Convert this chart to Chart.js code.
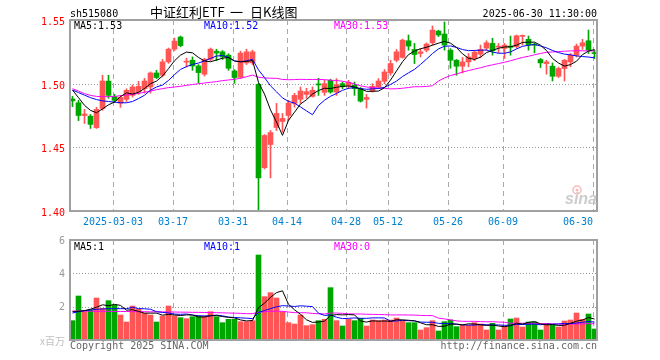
<!DOCTYPE html>
<html><head><meta charset="utf-8">
<script src="https://cdn.jsdelivr.net/npm/chart.js@4.4.1/dist/chart.umd.min.js"></script>
<style>
html,body{margin:0;padding:0;background:#fff;}
#wrap{position:relative;width:660px;height:360px;overflow:hidden;}
canvas{position:absolute;left:0;}
</style>
</head><body>
<div id="wrap">
<canvas id="k" width="660" height="230" style="top:0"></canvas>
<canvas id="v" width="660" height="130" style="top:230px"></canvas>
</div>
<script>
const dates = ['02-20','02-21','02-24','02-25','02-26','02-27','02-28',
'03-03','03-04','03-05','03-06','03-07','03-10','03-11','03-12','03-13','03-14',
'03-17','03-18','03-19','03-20','03-21','03-24','03-25','03-26','03-27','03-28',
'03-31','04-01','04-02','04-03','04-07','04-08','04-09','04-10','04-11',
'04-14','04-15','04-16','04-17','04-18','04-21','04-22','04-23','04-24','04-25',
'04-28','04-29','04-30','05-06','05-07','05-08','05-09',
'05-12','05-13','05-14','05-15','05-16','05-19','05-20','05-21','05-22','05-23',
'05-26','05-27','05-28','05-29','05-30','06-03','06-04','06-05','06-06',
'06-09','06-10','06-11','06-12','06-13','06-16','06-17','06-18','06-19','06-20',
'06-23','06-24','06-25','06-26','06-27','06-30'];

const tickDates  = ['03-03','03-17','03-31','04-14','04-28','05-12','05-26','06-09','06-30'];
const tickLabels = ['2025-03-03','03-17','03-31','04-14','04-28','05-12','05-26','06-09','06-30'];
const priceTicks = [1.55,1.50,1.45,1.40];
const priceGrid  = [1.50,1.45];
const volTicks   = [6,4,2];
const volGrid    = [4,2];
const titleParts = ['中证红利ETF', '一', '日K线图'];

const open = [1.488,1.485,1.475,1.4745,1.4655,1.4805,1.502,1.490,1.4847,1.4877,
1.4908,1.4934,1.4961,1.4974,1.5084,1.5066,1.5171,1.5271,1.5366,1.5169,
1.5184,1.5139,1.5074,1.5192,1.5255,1.525,1.5224,1.510,1.505,1.5163,
1.5163,1.4995,1.434,1.4522,1.4656,1.4703,1.475,1.4845,1.4877,1.4916,
1.490,1.4995,1.4932,1.5026,1.4934,1.500,1.4985,1.4987,1.4961,1.4877,
1.4942,1.4974,1.5019,1.5084,1.5184,1.5206,1.5337,1.5269,1.5237,1.5263,
1.5321,1.5413,1.539,1.5263,1.5184,1.5137,1.5171,1.5198,1.5232,1.5279,
1.5316,1.5287,1.5277,1.5295,1.529,1.5372,1.5348,1.5311,1.519,1.5158,
1.5137,1.5058,1.5119,1.5171,1.5224,1.5295,1.5337,1.524];
const high = [1.490,1.4869,1.4798,1.4758,1.4814,1.5066,1.5066,1.4916,1.4908,1.496,
1.499,1.5019,1.5042,1.5092,1.5105,1.519,1.528,1.5358,1.5374,1.520,
1.521,1.515,1.520,1.528,1.527,1.526,1.5235,1.511,1.5255,1.5271,
1.5263,1.5003,1.460,1.4632,1.4845,1.4766,1.4869,1.4924,1.4974,1.4963,
1.4974,1.5042,1.5026,1.5035,1.504,1.5013,1.5026,1.5013,1.497,1.4916,
1.500,1.504,1.5111,1.5184,1.5269,1.535,1.5382,1.5316,1.5277,1.532,
1.5453,1.542,1.5484,1.5275,1.519,1.5206,1.5237,1.526,1.5303,1.5337,
1.5356,1.5316,1.5316,1.5374,1.5382,1.5382,1.5374,1.532,1.5198,1.5184,
1.5163,1.513,1.519,1.5237,1.5311,1.5348,1.5421,1.5263];
const low = [1.482,1.471,1.4687,1.4648,1.4648,1.479,1.4885,1.4853,1.4814,1.486,
1.4895,1.4916,1.4926,1.4926,1.504,1.5053,1.516,1.526,1.529,1.513,
1.5105,1.5005,1.506,1.518,1.518,1.519,1.5105,1.5003,1.504,1.515,
1.515,1.4009,1.433,1.426,1.4632,1.4619,1.471,1.4816,1.4845,1.4885,
1.4895,1.4908,1.4908,1.4925,1.4908,1.4961,1.4961,1.4908,1.4855,1.4808,
1.4934,1.4961,1.500,1.5066,1.5171,1.520,1.5263,1.5158,1.521,1.525,
1.5303,1.537,1.5263,1.5121,1.5066,1.5084,1.5132,1.518,1.5206,1.5263,
1.5224,1.5242,1.5198,1.5224,1.528,1.5303,1.5263,1.5242,1.5127,1.5074,
1.5021,1.5048,1.5021,1.5132,1.521,1.5269,1.5237,1.5198];
const close = [1.4865,1.475,1.4762,1.468,1.4798,1.5021,1.4908,1.4869,1.4892,1.4948,
1.4974,1.4979,1.5021,1.5084,1.5048,1.5171,1.5271,1.5334,1.5299,1.5173,
1.5139,1.5087,1.5192,1.5271,1.524,1.521,1.5121,1.5048,1.524,1.525,
1.525,1.426,1.4593,1.4616,1.4766,1.4727,1.4845,1.4908,1.4942,1.4937,
1.4948,1.499,1.500,1.4934,1.4993,1.4979,1.5011,1.4961,1.4863,1.4892,
1.4979,1.5021,1.5092,1.5158,1.525,1.5342,1.5295,1.5229,1.525,1.5311,
1.5421,1.5382,1.5303,1.5184,1.5137,1.5171,1.521,1.5248,1.5269,1.5321,
1.5258,1.529,1.5303,1.5285,1.5376,1.5375,1.5303,1.5303,1.5163,1.5171,
1.5058,1.5119,1.5184,1.5224,1.5295,1.5321,1.5263,1.5236];

const ma5 = [1.495,1.489,1.483,1.479,1.4772,1.4802,1.4834,1.4856,1.4898,1.4928,
1.4918,1.4932,1.4962,1.500,1.502,1.506,1.5118,1.518,1.5224,1.5248,
1.5242,1.5206,1.5178,1.5172,1.5186,1.520,1.5206,1.5178,1.5172,1.5174,
1.5182,1.501,1.4918,1.4794,1.4698,1.4594,1.4712,1.4776,1.484,1.4874,
1.4918,1.4946,1.4964,1.4962,1.4972,1.4978,1.4982,1.4974,1.496,1.494,
1.494,1.4942,1.4968,1.5028,1.510,1.5172,1.5228,1.5256,1.5274,1.5286,
1.5302,1.5318,1.5332,1.5318,1.5284,1.5234,1.520,1.519,1.5208,1.5244,
1.5262,1.5278,1.5288,1.529,1.5302,1.5324,1.5326,1.5326,1.5302,1.526,
1.5198,1.5162,1.5138,1.515,1.5176,1.5228,1.5256,1.5268];
const ma10 = [1.495,1.493,1.491,1.489,1.4875,1.4865,1.486,1.4855,1.485,1.485,
1.486,1.4883,1.4909,1.4949,1.4974,1.4989,1.5025,1.5071,1.5112,1.5134,
1.5151,1.5162,1.5179,1.5198,1.5217,1.5221,1.5206,1.5178,1.5172,1.518,
1.5191,1.5108,1.5048,1.4983,1.4936,1.4888,1.4861,1.4847,1.4817,1.4786,
1.4756,1.4829,1.487,1.4901,1.4923,1.4948,1.4964,1.4969,1.4961,1.4956,
1.4959,1.4962,1.4971,1.4994,1.502,1.5056,1.5085,1.5112,1.5151,1.5193,
1.5237,1.5273,1.5294,1.5296,1.5285,1.5268,1.5259,1.5261,1.5263,1.5264,
1.5248,1.5239,1.5239,1.5249,1.5273,1.5293,1.5302,1.5307,1.5296,1.5281,
1.5261,1.5244,1.5232,1.5226,1.5218,1.5213,1.5209,1.5203];
const ma30 = [1.4961,1.4942,1.4922,1.4908,1.490,1.4898,1.4898,1.490,1.4906,1.4911,
1.4916,1.4924,1.4932,1.4942,1.4953,1.4961,1.4969,1.4974,1.4979,1.4987,
1.4993,1.500,1.5005,1.5011,1.5016,1.5024,1.5029,1.5034,1.5042,1.5055,
1.5067,1.5051,1.5045,1.5043,1.5042,1.5033,1.5031,1.5032,1.5034,1.5033,
1.5033,1.5033,1.5032,1.5027,1.5025,1.5019,1.501,1.4998,1.4983,1.4974,
1.4969,1.4966,1.4963,1.4959,1.496,1.4964,1.497,1.4976,1.4976,1.4978,
1.4984,1.5021,1.5045,1.5064,1.5076,1.5091,1.5103,1.5114,1.5125,1.5138,
1.5148,1.5158,1.5168,1.518,1.5193,1.5206,1.5215,1.5227,1.5237,1.5246,
1.5249,1.5252,1.5255,1.5257,1.5259,1.5258,1.5257,1.5257];

const vol = [1.16,2.64,1.7,1.8,2.52,1.9,2.36,2.1,1.5,1.08,
2.04,1.84,1.6,1.5,1.08,1.44,2.04,1.44,1.34,1.28,
1.4,1.44,1.44,1.7,1.4,1.04,1.24,1.24,1.1,1.1,
1.16,5.1,2.6,2.84,2.52,1.7,1.04,0.96,1.5,0.86,
0.92,1.16,1.24,3.14,1.16,0.84,1.24,1.16,1.3,0.84,
1.2,1.16,1.2,1.2,1.32,1.16,1.04,1.04,0.6,0.74,
1.16,0.54,1.1,1.2,0.8,0.88,0.88,1.04,0.96,0.6,
1.0,0.6,0.84,1.26,1.32,0.78,1.08,1.08,0.6,1.0,
0.9,0.78,1.14,1.2,1.62,1.24,1.56,0.66];
const vma5 = [1.70,1.72,1.76,1.85,1.964,2.112,2.056,2.136,2.076,1.788,
1.816,1.712,1.612,1.612,1.612,1.492,1.532,1.5,1.468,1.508,
1.5,1.38,1.38,1.452,1.476,1.404,1.364,1.324,1.204,1.144,
1.168,1.94,2.212,2.56,2.844,2.952,2.14,1.812,1.544,1.212,
1.056,1.08,1.136,1.464,1.524,1.508,1.524,1.508,1.14,1.076,
1.148,1.132,1.14,1.12,1.216,1.208,1.184,1.152,1.032,0.916,
0.916,0.816,0.828,0.948,0.96,0.904,0.972,0.96,0.912,0.872,
0.896,0.84,0.8,0.86,1.004,0.96,1.056,1.104,0.972,0.908,
0.932,0.872,0.884,1.004,1.128,1.196,1.352,1.256];
const vma10 = [1.62,1.70,1.76,1.80,1.84,1.86,1.88,1.88,1.88,1.876,
1.964,1.884,1.874,1.844,1.70,1.654,1.622,1.556,1.54,1.56,
1.496,1.456,1.44,1.46,1.492,1.452,1.372,1.352,1.328,1.31,
1.286,1.652,1.768,1.882,1.994,2.06,2.04,2.012,2.052,2.028,
2.004,1.61,1.474,1.504,1.368,1.282,1.302,1.322,1.302,1.30,
1.328,1.328,1.324,1.13,1.146,1.178,1.158,1.146,1.076,1.066,
1.062,1.0,0.99,0.99,0.938,0.91,0.894,0.894,0.93,0.916,
0.90,0.906,0.88,0.886,0.938,0.928,0.948,0.952,0.916,0.956,
0.946,0.964,0.994,0.988,1.018,1.064,1.112,1.07];
const vma30 = [1.74,1.74,1.73,1.73,1.72,1.72,1.72,1.71,1.71,1.71,
1.70,1.70,1.70,1.69,1.69,1.69,1.68,1.68,1.67,1.67,
1.66,1.66,1.65,1.65,1.64,1.63,1.62,1.61,1.60,1.582,
1.582,1.664,1.694,1.729,1.729,1.722,1.678,1.64,1.64,1.633,
1.595,1.573,1.561,1.615,1.618,1.598,1.571,1.562,1.561,1.546,
1.539,1.53,1.522,1.505,1.503,1.507,1.5,1.493,1.477,1.465,
1.465,1.313,1.263,1.208,1.151,1.123,1.118,1.121,1.103,1.094,
1.097,1.078,1.065,1.002,1.007,1.005,1.0,0.997,0.974,0.979,
0.969,0.957,0.955,0.955,0.965,0.967,0.985,0.972];

const RED = '#ff5555', GREEN = '#00a600';
const MONO = '10px "DejaVu Sans Mono", "Liberation Mono", monospace';
const idx = dates.map((d, i) => i);
const colors = idx.map(i => close[i] >= open[i] ? RED : GREEN);
const pts = arr => idx.map(i => ({x: i, y: arr[i]}));
const last = arr => arr[arr.length - 1];

function lineDs(label, arr, color) {
  return {type: 'line', label, data: pts(arr), borderColor: color, borderWidth: 1,
          pointRadius: 0, tension: 0, fill: false, order: 0};
}

const xScale = {type: 'linear', min: -2.5 / 6, max: (597 - 72.5) / 6, display: false, offset: false};

function gridPlugin(hValues) {
  return {
    id: 'grid',
    beforeDatasetsDraw(chart) {
      const {ctx, chartArea: a, scales} = chart;
      ctx.save();
      ctx.lineWidth = 1;
      ctx.strokeStyle = '#aaaaaa';
      ctx.setLineDash([5, 4]);
      tickDates.forEach(d => {
        const x = Math.round(scales.x.getPixelForValue(dates.indexOf(d)) - 2) + 0.5;
        ctx.beginPath(); ctx.moveTo(x, a.top); ctx.lineTo(x, a.bottom); ctx.stroke();
      });
      ctx.strokeStyle = '#999999';
      ctx.setLineDash([1, 2]);
      hValues.forEach(v => {
        const y = Math.round(scales.y.getPixelForValue(v)) + 0.5;
        ctx.beginPath(); ctx.moveTo(a.left, y); ctx.lineTo(a.right, y); ctx.stroke();
      });
      ctx.restore();
    },
    afterDatasetsDraw(chart) {
      const {ctx, chartArea: a} = chart;
      ctx.save();
      ctx.strokeStyle = '#a0a0a0';
      ctx.lineWidth = 2;
      ctx.strokeRect(a.left, a.top, a.right - a.left, a.bottom - a.top);
      ctx.restore();
    }
  };
}

const mainText = {
  id: 'mainText',
  afterDraw(chart) {
    const {ctx, chartArea: a, scales} = chart;
    ctx.save();
    ctx.font = MONO;
    ctx.textBaseline = 'alphabetic';
    ctx.fillStyle = '#000';
    ctx.textAlign = 'left';
    ctx.fillText('sh515080', 70, 17);
    ctx.textAlign = 'right';
    ctx.fillText('2025-06-30 11:30:00', 597, 17);
    ctx.textAlign = 'left';
    ctx.font = '13px "Noto Sans CJK SC"';
    ctx.fillText(titleParts[0], 150, 17);
    ctx.fillText(titleParts[1], 230, 17);
    ctx.fillText(titleParts[2], 250, 17);
    // legends
    ctx.font = MONO;
    ctx.fillStyle = '#000'; ctx.fillText('MA5:' + last(ma5).toFixed(2), 74, 29);
    ctx.fillStyle = '#0000ff'; ctx.fillText('MA10:' + last(ma10).toFixed(2), 204, 29);
    ctx.fillStyle = '#ff00ff'; ctx.fillText('MA30:' + last(ma30).toFixed(2), 334, 29);
    // price ticks
    ctx.fillStyle = '#ff0000';
    ctx.textAlign = 'right';
    ctx.textBaseline = 'middle';
    priceTicks.forEach(v => ctx.fillText(v.toFixed(2), 65, scales.y.getPixelForValue(v) + 2.5));
    // date ticks
    ctx.fillStyle = '#0080d0';
    ctx.textBaseline = 'alphabetic';
    tickDates.forEach((d, k) => {
      const x = Math.round(scales.x.getPixelForValue(dates.indexOf(d)) - 2);
      const w = ctx.measureText(tickLabels[k]).width;
      if (x + w / 2 > a.right) { ctx.textAlign = 'right'; ctx.fillText(tickLabels[k], x, 225); }
      else { ctx.textAlign = 'center'; ctx.fillText(tickLabels[k], x, 225); }
    });
    // sina watermark
    ctx.globalAlpha = 0.55;
    ctx.strokeStyle = '#f08080';
    ctx.lineWidth = 1.5;
    ctx.beginPath(); ctx.arc(577, 190, 4, 0, Math.PI * 2); ctx.stroke();
    ctx.beginPath(); ctx.arc(577, 190, 1.5, 0, Math.PI * 2); ctx.fillStyle = '#f08080'; ctx.fill();
    ctx.globalAlpha = 1;
    ctx.font = 'italic bold 16px "Liberation Sans", Arial, sans-serif';
    ctx.fillStyle = '#cccccc';
    ctx.textAlign = 'right';
    ctx.fillText('sina', 597, 204);
    ctx.restore();
  }
};

const volText = {
  id: 'volText',
  afterDraw(chart) {
    const {ctx, scales} = chart;
    ctx.save();
    ctx.font = MONO;
    ctx.textAlign = 'left';
    ctx.textBaseline = 'alphabetic';
    ctx.fillStyle = '#000'; ctx.fillText('MA5:' + Math.floor(last(vma5)), 74, 20);
    ctx.fillStyle = '#0000ff'; ctx.fillText('MA10:' + Math.floor(last(vma10)), 204, 20);
    ctx.fillStyle = '#ff00ff'; ctx.fillText('MA30:' + Math.floor(last(vma30)), 334, 20);
    ctx.fillStyle = '#999999';
    ctx.textAlign = 'right';
    ctx.textBaseline = 'middle';
    volTicks.forEach(v => ctx.fillText(String(v), 65, scales.y.getPixelForValue(v) + 1));
    ctx.textBaseline = 'alphabetic';
    ctx.fillStyle = '#c0c0c0';
    ctx.font = '10px "Noto Sans CJK SC"';
    ctx.fillText('x百万', 65, 115);
    ctx.font = MONO;
    ctx.fillStyle = '#666666';
    ctx.textAlign = 'left';
    ctx.fillText('Copyright 2025 SINA.COM', 70, 119);
    ctx.textAlign = 'right';
    ctx.fillText('http://finance.sina.com.cn', 597, 119);
    ctx.restore();
  }
};

const common = {
  responsive: false, animation: false, devicePixelRatio: 1,
  plugins: {legend: {display: false}, tooltip: {enabled: false}},
  events: []
};

new Chart(document.getElementById('k'), {
  type: 'bar',
  data: {datasets: [
    lineDs('MA5', ma5, '#000000'),
    lineDs('MA10', ma10, '#0000ff'),
    lineDs('MA30', ma30, '#ff00ff'),
    {label: 'body', data: idx.map(i => ({x: i, y: [open[i], close[i]]})), backgroundColor: colors,
     barThickness: 5, grouped: false, minBarLength: 1, order: 1},
    {label: 'wick', data: idx.map(i => ({x: i, y: [low[i], high[i]]})), backgroundColor: colors,
     barThickness: 1, grouped: false, order: 2}
  ]},
  options: Object.assign({}, common, {
    layout: {padding: {left: 70, right: 63, top: 20, bottom: 19}},
    scales: {x: xScale, y: {min: 1.40, max: 1.55, display: false}}
  }),
  plugins: [gridPlugin(priceGrid), mainText]
});

new Chart(document.getElementById('v'), {
  type: 'bar',
  data: {datasets: [
    lineDs('MA5', vma5, '#000000'),
    lineDs('MA10', vma10, '#0000ff'),
    lineDs('MA30', vma30, '#ff00ff'),
    {label: 'vol', data: idx.map(i => ({x: i, y: vol[i]})), backgroundColor: colors,
     barThickness: 5, grouped: false, order: 1}
  ]},
  options: Object.assign({}, common, {
    layout: {padding: {left: 70, right: 63, top: 10, bottom: 20}},
    scales: {x: Object.assign({}, xScale), y: {min: 0, max: 6, display: false}}
  }),
  plugins: [gridPlugin(volGrid), volText]
});
</script>
</body></html>
